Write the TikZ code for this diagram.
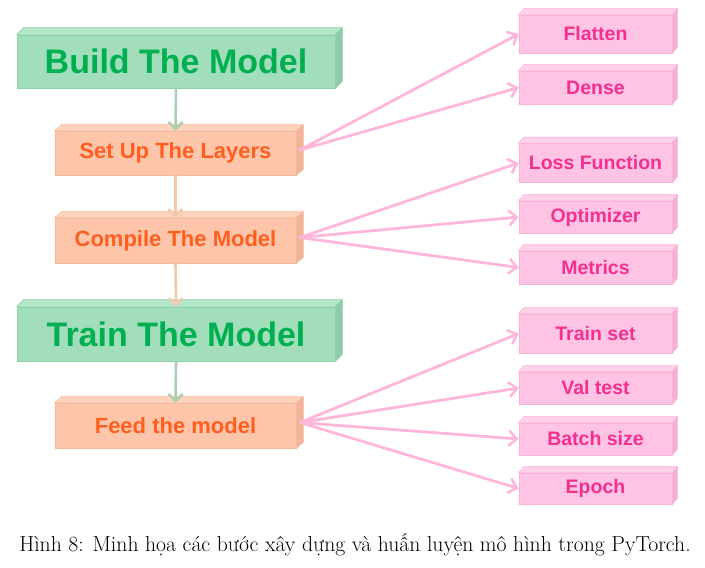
\documentclass[tikz,border=0pt]{standalone}
\usepackage{fontspec}
\newfontfamily\boxfont{Liberation Sans}
\usetikzlibrary{calc,arrows.meta}
\definecolor{gfront}{HTML}{A2DEBB}
\definecolor{gtop}{HTML}{B4E7CA}
\definecolor{gside}{HTML}{8DCCA6}
\definecolor{gborder}{HTML}{8FD3AC}
\definecolor{gtext}{HTML}{00B050}
\definecolor{sfront}{HTML}{FDC6AB}
\definecolor{stop}{HTML}{FDD3BE}
\definecolor{sside}{HTML}{F1B498}
\definecolor{sborder}{HTML}{F6BA9C}
\definecolor{stext}{HTML}{FF5E1F}
\definecolor{pfront}{HTML}{FFC3E3}
\definecolor{ptop}{HTML}{FFD3EA}
\definecolor{pside}{HTML}{F4B0D6}
\definecolor{pborder}{HTML}{FBB2D8}
\definecolor{ptext}{HTML}{F2308F}
\definecolor{parrowc}{HTML}{FFB6DB}
\definecolor{garrowc}{HTML}{A9CFAE}
\definecolor{tarrowc}{HTML}{F2C9A9}
\newcommand\boxfaces[6]{%
  \filldraw[fill=#4,draw=#6,line width=0.6pt] (#1.north west) -- ++(#2,-#3) -- ($(#1.north east)+(#2,-#3)$) -- (#1.north east) -- cycle;
  \filldraw[fill=#5,draw=#6,line width=0.6pt] (#1.north east) -- ++(#2,-#3) -- ($(#1.south east)+(#2,-#3)$) -- (#1.south east) -- cycle;}
\begin{document}
\begin{tikzpicture}[x=1pt,y=-1pt,
  gbox/.style={draw=gborder,line width=0.6pt,fill=gfront,minimum width=318pt,minimum height=53pt,inner sep=0pt,text=gtext,font=\boxfont\bfseries\fontsize{34}{40}\selectfont},
  sbox/.style={draw=sborder,line width=0.6pt,fill=sfront,minimum width=241pt,minimum height=44pt,inner sep=0pt,text=stext,font=\boxfont\bfseries\fontsize{22}{26}\selectfont},
  pbox/.style={draw=pborder,line width=0.6pt,fill=pfront,minimum width=153pt,inner sep=0pt,text=ptext,font=\boxfont\bfseries\fontsize{19.5}{23}\selectfont},
  parrow/.style={draw=parrowc,line width=2.8pt,-{Straight Barb[length=8pt,width=15pt,line width=2.6pt]}},
  garrow/.style={draw=garrowc,line width=2.6pt,-{Straight Barb[length=7pt,width=14pt,line width=2.4pt]}},
  tarrow/.style={draw=tarrowc,line width=2.6pt,-{Straight Barb[length=7pt,width=14pt,line width=2.4pt]}}]
\useasboundingbox (0,0) rectangle (705,568);
% left column
\node[gbox] (build) at (176,61.5) {Build The Model};
\node[sbox] (setup) at (175.5,153) {Set Up The Layers};
\node[sbox,minimum height=45pt] (compile) at (175.5,240.5) {Compile The Model};
\node[gbox,minimum height=54pt] (train) at (176,334) {Train The Model};
\node[sbox,minimum height=45pt] (feed) at (175.5,425.5) {Feed the model};
\boxfaces{build}{7}{7}{gtop}{gside}{gborder}
\boxfaces{train}{7}{7}{gtop}{gside}{gborder}
\boxfaces{setup}{7}{6}{stop}{sside}{sborder}
\boxfaces{compile}{7}{6}{stop}{sside}{sborder}
\boxfaces{feed}{7}{6}{stop}{sside}{sborder}
% right column
\node[pbox,minimum height=38pt] (flatten) at (595.5,34) {Flatten};
\node[pbox,minimum height=33pt] (dense) at (595.5,87.5) {Dense};
\node[pbox,minimum height=39pt] (loss) at (595.5,163) {Loss Function};
\node[pbox,minimum height=32pt] (optim) at (595.5,217) {Optimizer};
\node[pbox,minimum height=33pt] (metrics) at (595.5,267.5) {Metrics};
\node[pbox,minimum height=39pt] (trainset) at (595.5,333.5) {Train set};
\node[pbox,minimum height=32pt] (valtest) at (595.5,388) {Val test};
\node[pbox,minimum height=32pt] (batch) at (595.5,439) {Batch size};
\node[pbox,minimum height=31pt] (epoch) at (595.5,488.5) {Epoch};
\foreach \n in {flatten,dense,loss,optim,metrics,trainset,valtest,batch,epoch}{\boxfaces{\n}{5}{6}{ptop}{pside}{pborder}}
% side-face anchor points
\coordinate (setupR) at ($(setup.east)+(3.5,-3)$);
\coordinate (compileR) at ($(compile.east)+(3.5,-3)$);
\coordinate (feedR) at ($(feed.east)+(3.5,-3)$);
% vertical arrows
\draw[garrow] (build.south) -- (setup.north);
\draw[tarrow] (setup.south) -- (compile.north);
\draw[tarrow] (compile.south) -- (train.north);
\draw[garrow] (train.south) -- (feed.north);
% fan-out arrows
\draw[parrow] (setupR) -- (flatten.west);
\draw[parrow] (setupR) -- (dense.west);
\draw[parrow] (compileR) -- (loss.west);
\draw[parrow] (compileR) -- (optim.west);
\draw[parrow] (compileR) -- (metrics.west);
\draw[parrow] (feedR) -- (trainset.west);
\draw[parrow] (feedR) -- (valtest.west);
\draw[parrow] (feedR) -- (batch.west);
\draw[parrow] (feedR) -- (epoch.west);
% caption
\node[font=\fontsize{21.7}{26}\selectfont,inner sep=0pt] (caption) at (355,545) {Hình 8: Minh họa các bước xây dựng và huấn luyện mô hình trong PyTorch.};
\end{tikzpicture}
\end{document}
